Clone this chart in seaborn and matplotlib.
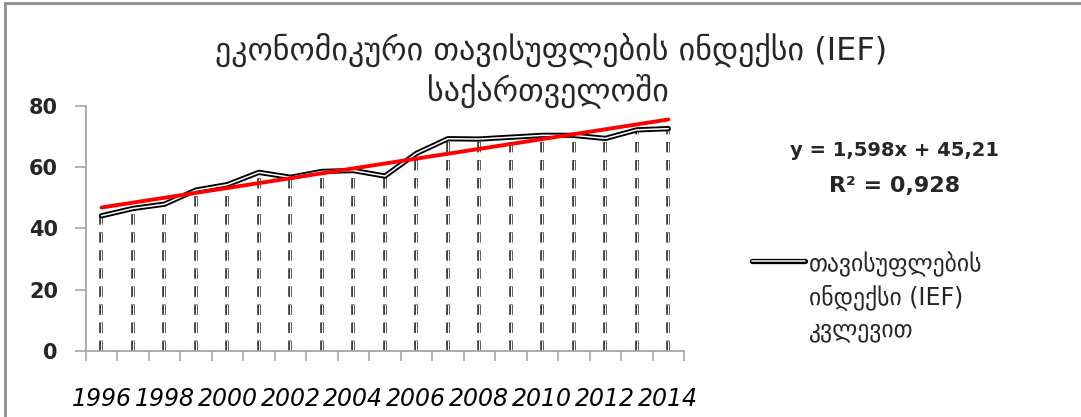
import numpy as np
import pandas as pd
import matplotlib
matplotlib.use("Agg")
import matplotlib.pyplot as plt
from matplotlib.lines import Line2D
from matplotlib.patches import Rectangle
import seaborn as sns

years = [1996, 1997, 1998, 1999, 2000, 2001, 2002, 2003, 2004, 2005,
         2006, 2007, 2008, 2009, 2010, 2011, 2012, 2013, 2014]
ief_values = [44.1, 46.5, 47.9, 52.5, 54.3, 58.3, 56.7, 58.6, 58.9, 57.1,
              64.5, 69.3, 69.2, 69.8, 70.4, 70.4, 69.4, 72.2, 72.6]
y_ticks = [0, 20, 40, 60, 80]

title_line1 = "ეკონომიკური თავისუფლების ინდექსი (IEF)"
title_line2 = "საქართველოში"
legend_lines = ["თავისუფლების", "ინდექსი (IEF)", "კვლევით"]
equation_text = "y = 1,598x + 45,21"
r2_text = "R² = 0,928"

sns.set_theme(style="white")
plt.rcParams["font.family"] = ["DejaVu Sans"]
plt.rcParams["lines.scale_dashes"] = False

df = pd.DataFrame({"year": years, "ief": ief_values})

fig = plt.figure(figsize=(10.81, 4.17), dpi=100)
ax = fig.add_axes([0.0793, 0.159, 0.5535, 0.5868])

grey = "#a6a6a6"

# drop lines (double dashed)
ax.vlines(df["year"], 0, df["ief"], colors="#333333", linewidth=2.6,
          linestyles=[(0, (7.5, 5.5))], zorder=1)
ax.vlines(df["year"], 0, df["ief"], colors="white", linewidth=0.8,
          linestyles=[(0, (7.5, 5.5))], zorder=1.1)

# series line: black outer with white core
sns.lineplot(data=df, x="year", y="ief", ax=ax, color="black",
             linewidth=3.8, zorder=3, solid_joinstyle="round")
sns.lineplot(data=df, x="year", y="ief", ax=ax, color="white",
             linewidth=1.1, zorder=3.1, solid_joinstyle="round")

# linear trend
sns.regplot(data=df, x="year", y="ief", ax=ax, scatter=False, ci=None,
            color="#ff0000", line_kws={"linewidth": 2.8, "zorder": 4})

ax.set_xlim(years[0] - 0.5, years[-1] + 0.5)
ax.set_ylim(0, 80)
ax.set_xlabel("")
ax.set_ylabel("")

ax.set_xticks(years[::2])
ax.set_xticklabels([str(y) for y in years[::2]], fontsize=17,
                   fontstyle="italic")
ax.set_xticks([y - 0.5 for y in years] + [years[-1] + 0.5], minor=True)
ax.tick_params(axis="x", which="major", length=0, pad=26, colors="black")
ax.tick_params(axis="x", which="minor", length=7, width=1.2, color=grey,
               direction="out", bottom=True)

ax.set_yticks(y_ticks)
ax.set_yticklabels([str(v) for v in y_ticks], fontsize=15, fontweight="bold")
ax.tick_params(axis="y", length=8, width=1.2, color=grey, direction="out",
               left=True, pad=12)

for side in ["top", "right"]:
    ax.spines[side].set_visible(False)
for side in ["left", "bottom"]:
    ax.spines[side].set_color(grey)
    ax.spines[side].set_linewidth(1.3)

# title
fig.text(551 / 1081, 1 - 50 / 417, title_line1, ha="center", va="center",
         fontsize=23)
fig.text(548 / 1081, 1 - 91 / 417, title_line2, ha="center", va="center",
         fontsize=23)

# trendline equation
fig.text(894 / 1081, 1 - 150 / 417, equation_text, ha="center", va="center",
         fontsize=14, fontweight="bold")
fig.text(895 / 1081, 1 - 186 / 417, r2_text, ha="center", va="center",
         fontsize=16, fontweight="bold")

# legend (manual)
hy = 1 - 261 / 417
fig.add_artist(Line2D([752 / 1081, 805 / 1081], [hy, hy], color="black",
                      linewidth=3.8, transform=fig.transFigure))
fig.add_artist(Line2D([752 / 1081, 805 / 1081], [hy, hy], color="white",
                      linewidth=1.1, transform=fig.transFigure))
for i, line in enumerate(legend_lines):
    fig.text(809 / 1081, 1 - (264 + 33 * i) / 417, line, ha="left",
             va="center", fontsize=17)

# chart frame
fig.add_artist(Rectangle((5 / 1081, -0.2), 1.2, 1.2 - 3 / 417,
                         transform=fig.transFigure, fill=False,
                         edgecolor="#8c8c8c", linewidth=2))

fig.savefig("out.png", dpi=100, facecolor="white")
